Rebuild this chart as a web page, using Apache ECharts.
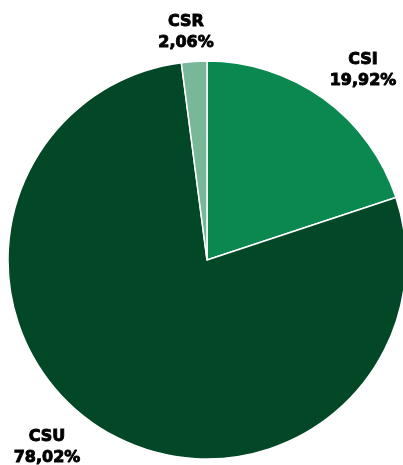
<!DOCTYPE html>
<html><head><meta charset="utf-8">
<script src="https://cdn.jsdelivr.net/npm/echarts@6/dist/echarts.min.js"></script>
<style>html,body{margin:0;padding:0;background:#fff}#c{width:403px;height:465px}</style>
</head><body><div id="c"></div>
<script>
const categories = ['CSI', 'CSU', 'CSR'];
const shares = [19.92, 78.02, 2.06];
const colors = ['#0b8850', '#024827', '#78b899'];
const labelPos = [[363, 70], [47, 447], [186, 32]];

const chart = echarts.init(document.getElementById('c'), null, {renderer: 'canvas'});
chart.setOption({
  animation: false,
  series: [{
    type: 'pie',
    center: [207, 260],
    radius: [0, 199],
    startAngle: 90,
    clockwise: true,
    data: categories.map((c, i) => ({name: c, value: shares[i], itemStyle: {color: colors[i]}})),
    itemStyle: {borderColor: '#ffffff', borderWidth: 1.5},
    label: {
      show: true,
      position: 'inside',
      overflow: 'none',
      formatter: p => p.name + '\n' + p.value.toFixed(2).replace('.', ',') + '%',
      fontFamily: 'DejaVu Sans',
      fontWeight: 'bold',
      fontSize: 16,
      lineHeight: 21,
      color: '#000',
      align: 'center',
      textBorderWidth: 0.9,
      textBorderColor: '#000'
    },
    labelLine: {show: false},
    labelLayout: p => ({x: labelPos[p.dataIndex][0], y: labelPos[p.dataIndex][1], align: 'center', verticalAlign: 'middle'})
  }]
});
</script></body></html>
